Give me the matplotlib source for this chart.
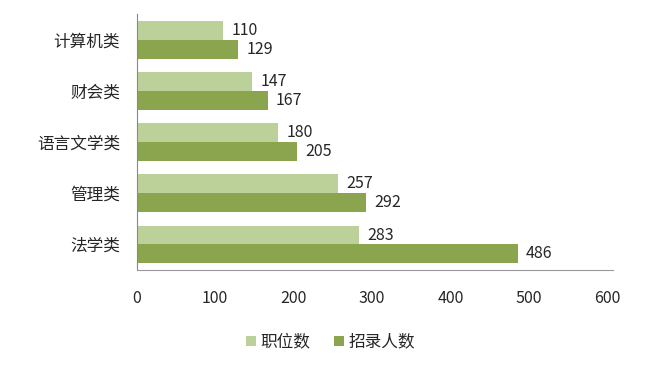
import numpy as np
import matplotlib
matplotlib.use("Agg")
import matplotlib.pyplot as plt

plt.rcParams['font.family'] = ['Noto Sans CJK SC', 'DejaVu Sans']

categories = ["计算机类", "财会类", "语言文学类", "管理类", "法学类"]
positions = [110, 147, 180, 257, 283]
hires = [129, 167, 205, 292, 486]
series_names = ["职位数", "招录人数"]

light = "#bcd09a"
dark = "#8aa54e"
txt = "#262626"

fig = plt.figure(figsize=(6.48, 3.72), dpi=100)
ax = fig.add_axes([0.211, 0.274, 0.726, 0.688])

y = np.arange(len(categories))
h = 0.37
b1 = ax.barh(y - h / 2, positions, height=h, color=light, label=series_names[0])
b2 = ax.barh(y + h / 2, hires, height=h, color=dark, label=series_names[1])

for bars, vals in ((b1, positions), (b2, hires)):
    for bar, v in zip(bars, vals):
        ax.annotate(str(v), (v, bar.get_y() + bar.get_height() / 2),
                    xytext=(6, 0), textcoords="offset points",
                    va="center", ha="left", fontsize=11.5, color=txt)

ax.set_xlim(0, 600)
ax.set_ylim(len(categories) - 0.5, -0.5)
ax.set_yticks(y)
ax.set_yticklabels(categories, fontsize=12, color=txt)
ax.set_xticks(range(0, 601, 100))
ax.tick_params(axis="x", length=0, pad=14, labelsize=11.5, labelcolor=txt)
ax.tick_params(axis="y", length=0, pad=12)

for s in ("top", "right"):
    ax.spines[s].set_visible(False)
ax.spines["left"].set_color("#888888")
ax.spines["bottom"].set_color("#999999")
ax.spines["bottom"].set_bounds(0, 608)

leg = fig.legend(loc="center", bbox_to_anchor=(0.51, 0.08), ncol=2, frameon=False,
                 fontsize=12, handlelength=0.6, handleheight=0.6,
                 handletextpad=0.3, columnspacing=1.4)
for t in leg.get_texts():
    t.set_color(txt)

fig.savefig("out.png", dpi=100)
